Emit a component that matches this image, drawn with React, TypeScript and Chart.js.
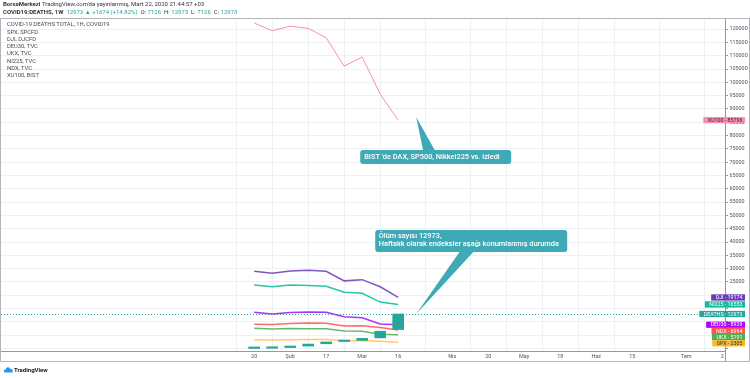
import React, { useEffect, useRef } from 'react';
import { Chart, registerables } from 'chart.js';

Chart.register(...registerables);

// ---- data (weekly, index 0 = 20 Jan 2020) ----
const weekIdx = [0, 1, 2, 3, 4, 5, 6, 7, 8];
const deathsOpen = [6, 80, 362, 910, 1770, 2629, 3050, 3990, 7126];
const deathsClose = [56, 259, 813, 1666, 2462, 2978, 3800, 6500, 12973];
const xu100 = [122300, 119400, 121100, 120300, 116750, 106100, 109500, 95600, 85796];
const dji = [28989, 28256, 29102, 29398, 28992, 25409, 25864, 23185, 19174];
const ni225 = [23827, 23205, 23827, 23687, 23386, 21143, 20749, 17431, 16553];
const deu30 = [13577, 12982, 13514, 13745, 13579, 11890, 11542, 9232, 8929];
const ndx = [9093, 8991, 9401, 9623, 9446, 8462, 8530, 7875, 6994];
const ukx = [7586, 7286, 7467, 7409, 7404, 6581, 6463, 5366, 5191];
const spx = [3295, 3225, 3328, 3380, 3338, 2954, 2972, 2711, 2305];

const xTickWeeks = [0, 2, 4, 6, 8, 11, 13, 15, 17, 19, 21, 24, 26];
const xTickLabels = ['20', 'Şub', '17', 'Mar', '16', 'Nis', '20', 'May', '18', 'Haz', '15', 'Tem', '2'];
const yTickValues = [0, 5000, 10000, 15000, 20000, 25000, 30000, 35000, 40000, 45000, 50000, 55000, 60000,
  65000, 70000, 75000, 80000, 85000, 90000, 95000, 100000, 105000, 110000, 115000, 120000];

const legendNames = ['COVID-19 DEATHS TOTAL, 1H, COVID19', 'SPX, SPCFD', 'DJI, DJCFD', 'DEU30, TVC',
  'UKX, TVC', 'NI225, TVC', 'NDX, TVC', 'XU100, BIST'];

const callout1Lines = ["BIST 'de DAX, SP500, Nikkei225 vs. izledi"];
const callout2Lines = ['Ölüm sayısı 12973,', 'Haftalık olarak endeksler aşağı konumlanmış durumda'];
const calloutTipWeek = 9;
const callout1TipValue = 87000;
const callout2TipValue = 12973;

const FONT = 'Roboto, "Noto Sans", sans-serif';
const TEAL = '#26a69a';

const seriesDefs = [
  { name: 'XU100', data: xu100, color: '#f48fb1', box: '#f48fb1', fg: '#5c1630', width: 1 },
  { name: 'DJI', data: dji, color: '#7e57c2', box: '#673ab7', fg: '#ffffff', width: 1.5 },
  { name: 'NI225', data: ni225, color: '#26c6a6', box: '#14b89c', fg: '#ffffff', width: 1.5 },
  { name: 'DEU30', data: deu30, color: '#aa33f5', box: '#aa00ff', fg: '#ffffff', width: 1.5 },
  { name: 'NDX', data: ndx, color: '#ff6b6b', box: '#ff5252', fg: '#ffffff', width: 1.5 },
  { name: 'UKX', data: ukx, color: '#66bb6a', box: '#4caf50', fg: '#ffffff', width: 1.5 },
  { name: 'SPX', data: spx, color: '#ffcc66', box: '#fbb829', fg: '#333333', width: 1.5 },
];

function roundRect(ctx: CanvasRenderingContext2D, x: number, y: number, w: number, h: number, r: number) {
  ctx.beginPath();
  ctx.moveTo(x + r, y);
  ctx.lineTo(x + w - r, y);
  ctx.quadraticCurveTo(x + w, y, x + w, y + r);
  ctx.lineTo(x + w, y + h - r);
  ctx.quadraticCurveTo(x + w, y + h, x + w - r, y + h);
  ctx.lineTo(x + r, y + h);
  ctx.quadraticCurveTo(x, y + h, x, y + h - r);
  ctx.lineTo(x, y + r);
  ctx.quadraticCurveTo(x, y, x + r, y);
  ctx.closePath();
}

const decorPlugin = {
  id: 'decor',
  beforeDatasetsDraw(chart: any) {
    const ctx = chart.ctx as CanvasRenderingContext2D;
    const { left, right } = chart.chartArea;
    const y = chart.scales.y.getPixelForValue(deathsClose[deathsClose.length - 1]);
    ctx.save();
    ctx.strokeStyle = TEAL;
    ctx.lineWidth = 1;
    ctx.setLineDash([1, 2]);
    ctx.beginPath();
    ctx.moveTo(left, Math.round(y) + 0.5);
    ctx.lineTo(right, Math.round(y) + 0.5);
    ctx.stroke();
    ctx.restore();
  },
  afterDraw(chart: any) {
    const ctx = chart.ctx as CanvasRenderingContext2D;
    const xs = chart.scales.x;
    const ys = chart.scales.y;
    const { right, top } = chart.chartArea;
    ctx.save();

    // frame
    ctx.strokeStyle = '#b2b5be';
    ctx.lineWidth = 1;
    ctx.beginPath();
    ctx.moveTo(0, 18.5);
    ctx.lineTo(750, 18.5);
    ctx.moveTo(0.5, 18.5);
    ctx.lineTo(0.5, 361.5);
    ctx.lineTo(749.5, 361.5);
    ctx.lineTo(749.5, 18.5);
    ctx.stroke();
    ctx.strokeStyle = '#9598a1';
    ctx.beginPath();
    ctx.moveTo(Math.round(right) + 0.5, top);
    ctx.lineTo(Math.round(right) + 0.5, 361.5);
    ctx.stroke();

    // header
    ctx.textBaseline = 'middle';
    ctx.textAlign = 'left';
    let x = 3;
    ctx.fillStyle = '#333';
    ctx.font = `bold 6px ${FONT}`;
    ctx.fillText('BorsaMerkezi', x, 4.5);
    x += ctx.measureText('BorsaMerkezi').width;
    ctx.font = `6px ${FONT}`;
    ctx.fillText(" TradingView.com'da yayınlanmış, Mart 22, 2020 21:44:57 +03", x, 4.5);

    const parts: [string, string, boolean][] = [
      ['COVID19:DEATHS, 1W', '#333', true],
      ['  12973 ▲ +1674 (+14.82%)', TEAL, false],
      ['  O:', '#333', false], [' 7126', TEAL, false],
      ['  H:', '#333', false], [' 12973', TEAL, false],
      ['  L:', '#333', false], [' 7126', TEAL, false],
      ['  C:', '#333', false], [' 12973', TEAL, false],
    ];
    x = 3;
    for (const [t, c, b] of parts) {
      ctx.font = `${b ? 'bold ' : ''}6px ${FONT}`;
      ctx.fillStyle = c;
      ctx.fillText(t, x, 12);
      x += ctx.measureText(t).width;
    }

    // legend list
    ctx.font = `5.8px ${FONT}`;
    ctx.fillStyle = '#4a4a4a';
    legendNames.forEach((n, i) => {
      ctx.fillText(n, 7, 24.8 + i * 7.3);
    });

    // logo
    ctx.fillStyle = '#2196f3';
    ctx.beginPath();
    ctx.arc(8, 369.5, 2.2, Math.PI, 0);
    ctx.arc(11, 370.5, 1.6, Math.PI * 1.3, 0);
    ctx.lineTo(12.6, 372.5);
    ctx.lineTo(4, 372.5);
    ctx.arc(5.2, 371, 1.4, Math.PI * 0.5, Math.PI * 1.5);
    ctx.closePath();
    ctx.fill();
    ctx.fillStyle = '#131722';
    ctx.font = `bold 6px ${FONT}`;
    ctx.fillText('TradingView', 14, 370.5);

    // right axis labels (stacked so they do not overlap)
    const labelItems = [
      ...seriesDefs.map((s) => ({ name: s.name, value: s.data[s.data.length - 1], box: s.box, fg: s.fg })),
      { name: 'DEATHS', value: deathsClose[deathsClose.length - 1], box: TEAL, fg: '#ffffff' },
    ]
      .map((it) => ({ ...it, y: ys.getPixelForValue(it.value) }))
      .sort((a, b) => a.y - b.y);
    const H = 6.2;
    for (let i = 1; i < labelItems.length; i++) {
      if (labelItems[i].y < labelItems[i - 1].y + H) labelItems[i].y = labelItems[i - 1].y + H;
    }
    ctx.font = `5.3px ${FONT}`;
    ctx.textAlign = 'right';
    for (const it of labelItems) {
      const yy = it.y;
      const txt = `${it.name} - ${it.value}`;
      const w = ctx.measureText(txt).width + 7;
      ctx.fillStyle = it.box;
      ctx.fillRect(745 - w, yy - H / 2, w, H);
      ctx.fillStyle = it.fg;
      ctx.fillText(txt, 742.5, yy + 0.3);
    }

    // callouts
    const tipX = xs.getPixelForValue(calloutTipWeek);
    const tip1Y = ys.getPixelForValue(callout1TipValue);
    const tip2Y = ys.getPixelForValue(callout2TipValue);
    const CALL = '#3fa9b5';
    ctx.fillStyle = CALL;
    // callout 1
    const b1x = tipX - 56, b1y = tip1Y + 33, b1w = 151, b1h = 14;
    ctx.beginPath();
    ctx.moveTo(tipX, tip1Y);
    ctx.lineTo(tipX + 19, b1y + 1);
    ctx.lineTo(tipX + 7, b1y + 1);
    ctx.closePath();
    ctx.fill();
    roundRect(ctx, b1x, b1y, b1w, b1h, 3);
    ctx.fill();
    // callout 2
    const b2x = tipX - 41, b2y = tip2Y - 84, b2w = 192, b2h = 22;
    ctx.beginPath();
    ctx.moveTo(tipX, tip2Y);
    ctx.lineTo(tipX + 44, b2y + b2h - 1);
    ctx.lineTo(tipX + 58, b2y + b2h - 1);
    ctx.closePath();
    ctx.fill();
    roundRect(ctx, b2x, b2y, b2w, b2h, 3);
    ctx.fill();

    ctx.fillStyle = '#ffffff';
    ctx.textAlign = 'left';
    ctx.font = `500 7.4px ${FONT}`;
    callout1Lines.forEach((l, i) => ctx.fillText(l, b1x + 4, b1y + 7.3 + i * 7.5));
    callout2Lines.forEach((l, i) => ctx.fillText(l, b2x + 3.5, b2y + 6.5 + i * 7.8));

    ctx.restore();
  },
};

export default function App() {
  const ref = useRef<HTMLCanvasElement | null>(null);

  useEffect(() => {
    document.body.style.margin = '0';
    const canvas = ref.current;
    if (!canvas) return;

    const lineSets = seriesDefs.map((s) => ({
      type: 'line' as const,
      label: s.name,
      data: weekIdx.map((w, i) => ({ x: w, y: s.data[i] })),
      borderColor: s.color,
      backgroundColor: s.color,
      borderWidth: s.width,
      pointRadius: 0,
      tension: 0,
      order: 2,
    }));

    const chart = new Chart(canvas, {
      type: 'line',
      data: {
        datasets: [
          {
            type: 'bar' as const,
            label: 'DEATHS',
            data: weekIdx.map((w, i) => ({ x: w, y: [deathsOpen[i], deathsClose[i]] })) as any,
            backgroundColor: TEAL,
            borderWidth: 0,
            barThickness: 11,
            minBarLength: 1.5,
            order: 1,
          } as any,
          ...lineSets,
        ],
      },
      options: {
        responsive: false,
        animation: false,
        devicePixelRatio: 1,
        layout: { padding: { top: 19, left: 1, right: 0, bottom: 16 } },
        plugins: { legend: { display: false }, tooltip: { enabled: false } },
        scales: {
          x: {
            type: 'linear',
            min: -14.06,
            max: 26.15,
            offset: false,
            afterFit: (s: any) => { s.height = 11; },
            afterBuildTicks: (s: any) => { s.ticks = xTickWeeks.map((v) => ({ value: v })); },
            ticks: {
              autoSkip: false,
              maxRotation: 0,
              padding: 2,
              font: { size: 5.5, family: FONT },
              color: '#555',
              callback: (v: any) => {
                const i = xTickWeeks.indexOf(Number(v));
                return i >= 0 ? xTickLabels[i] : '';
              },
            },
            grid: { color: '#edf1f6', tickLength: 0, drawTicks: false },
            border: { color: '#9598a1' },
          },
          y: {
            type: 'linear',
            position: 'right',
            min: -940,
            max: 123800,
            afterFit: (s: any) => { s.width = 25; },
            afterBuildTicks: (s: any) => { s.ticks = yTickValues.map((v) => ({ value: v })); },
            ticks: {
              padding: 1.5,
              font: { size: 5.4, family: FONT },
              color: '#555',
              callback: (v: any) => (Number(v) >= 25000 ? String(v) : ''),
            },
            grid: { color: '#edf1f6', tickLength: 3, tickColor: '#9598a1' },
            border: { color: '#9598a1' },
          },
        },
      },
      plugins: [decorPlugin],
    });
    return () => chart.destroy();
  }, []);

  return (
    <div style={{ position: 'fixed', left: 0, top: 0, width: 750, height: 378, background: '#fff' }}>
      <canvas ref={ref} width={750} height={378} style={{ display: 'block', width: 750, height: 378 }} />
    </div>
  );
}
